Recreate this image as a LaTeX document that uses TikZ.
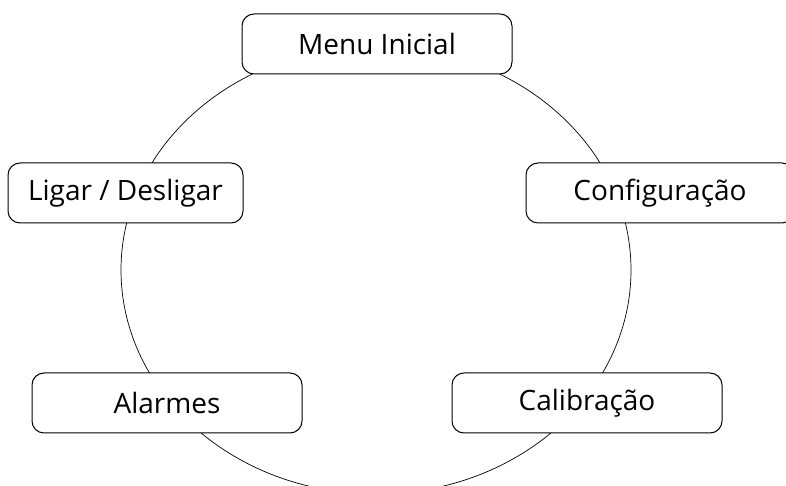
\documentclass[tikz,border=0pt]{standalone}
\usepackage{fontspec}
\setmainfont{Open Sans}
\begin{document}
\begin{tikzpicture}[x=1pt,y=1pt,
        menubox/.style={draw,fill=white,rounded corners=12pt,minimum height=60pt,inner sep=0pt,line width=1pt,font=\fontsize{28}{33}\selectfont}]
        \useasboundingbox (0,0) rectangle (786,486);
        \coordinate (centro) at (376,216);
        \draw[line width=0.7pt] (centro) ellipse [x radius=255pt, y radius=224pt];

        \node[menubox,minimum width=270pt] (menu) at (377,442) {Menu Inicial};
        \node[menubox,minimum width=235pt] (ligar) at (125.5,293) {Ligar / Desligar};
        \node[menubox,minimum width=268pt] (config) at (660,293) {Configuração};
        \node[menubox,minimum width=270pt] (alarmes) at (167,83) {Alarmes};
        \node[menubox,minimum width=270pt] (calib) at (587,83) {Calibração};
\end{tikzpicture}
\end{document}
